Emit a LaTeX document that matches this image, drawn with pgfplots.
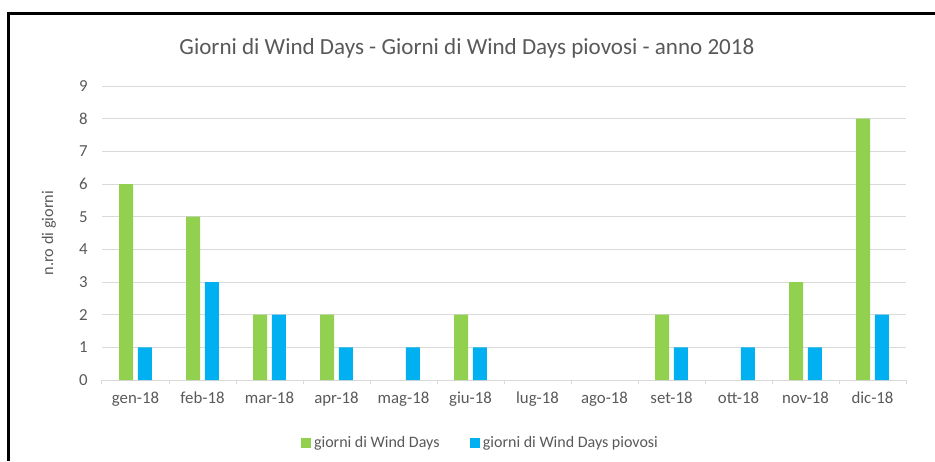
\documentclass[border=0pt]{standalone}
\usepackage{fontspec}
\setmainfont{Carlito}
\usepackage{pgfplots}
\pgfplotsset{compat=1.18}
\definecolor{wgreen}{HTML}{92D050}
\definecolor{wblue}{HTML}{00B0F0}
\definecolor{txt}{HTML}{595959}
\definecolor{grid}{HTML}{D9D9D9}

\begin{document}
\begin{tikzpicture}
% pixel frame (1px = 0.75pt, y downwards)
\begin{scope}[x=0.75pt,y=-0.75pt]
\path[use as bounding box] (0,0) rectangle (935,461);
\draw[line width=1.8pt,black] (8.5,461) -- (8.5,13.5) -- (935,13.5);
\node[text=txt,font=\fontsize{17.3}{20}\selectfont] at (467,48) {Giorni di Wind Days - Giorni di Wind Days piovosi - anno 2018};
\end{scope}

\begin{axis}[
    at={(102*0.75pt,-380*0.75pt)}, anchor=south west,
    scale only axis,
    width=603pt, height=220.5pt,
    ybar=3.5pt, bar width=10.5pt,
    xmin=-0.5, xmax=11.5,
    ymin=0, ymax=9,
    xtick={0,...,11},
    xticklabels={gen-18,feb-18,mar-18,apr-18,mag-18,giu-18,lug-18,ago-18,set-18,ott-18,nov-18,dic-18},
    minor xtick={-0.5,0.5,...,11.5},
    ytick={0,...,9},
    axis x line*=bottom, axis y line*=left,
    x axis line style={draw=grid, line width=0.75pt},
    y axis line style={draw=none},
    ymajorgrids, major grid style={draw=grid, line width=0.75pt},
    major tick length=0pt, minor tick length=3pt, tick align=outside,
    minor tick style={draw=grid, line width=0.75pt},
    /pgf/number format/assume math mode=true,
    tick label style={font=\fontsize{12.6}{15}\selectfont, text=txt},
    yticklabel style={inner sep=0pt, xshift=-10.5pt},
    xticklabel style={inner sep=0pt, yshift=-9pt, anchor=north},
    ylabel={n.ro di giorni},
    ylabel style={at={(axis description cs:-0.066,0.5)}, anchor=center, font=\fontsize{12.2}{14}\selectfont, text=txt},
    legend columns=2,
    legend style={at={(axis description cs:0.4714,-0.2126)}, anchor=center, draw=none,
        font=\fontsize{12}{14}\selectfont, text=txt,
        /tikz/every even column/.append style={column sep=21pt}},
    legend image code/.code={\fill[#1] (0pt,-3.75pt) rectangle (7.5pt,3.75pt);},
    unbounded coords=discard,
    y filter/.expression={y==0 ? nan : y},
]
\addplot[fill=wgreen, draw=none] coordinates {
    (0,6) (1,5) (2,2) (3,2) (4,0) (5,2) (6,0) (7,0) (8,2) (9,0) (10,3) (11,8)
};
\addplot[fill=wblue, draw=none] coordinates {
    (0,1) (1,3) (2,2) (3,1) (4,1) (5,1) (6,0) (7,0) (8,1) (9,1) (10,1) (11,2)
};
\legend{giorni di Wind Days, giorni di Wind Days piovosi}
\end{axis}
\end{tikzpicture}
\end{document}
